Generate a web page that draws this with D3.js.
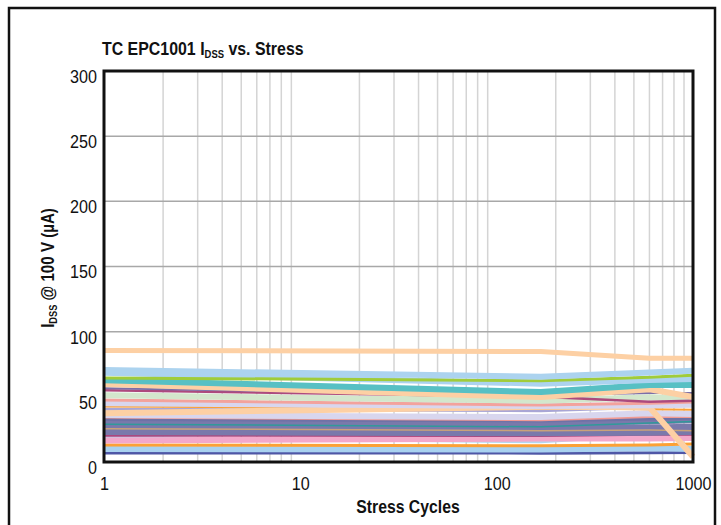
<!DOCTYPE html>
<html>
<head>
<meta charset="utf-8">
<script src="https://cdn.jsdelivr.net/npm/d3@7"></script>
<style>
  html, body { margin: 0; padding: 0; background: #fff; }
  svg { display: block; }
  text { font-family: "Liberation Sans", Arial, sans-serif; fill: #111; }
</style>
</head>
<body>
<svg id="chart" width="721" height="525"></svg>
<script>
// Stress-cycle sample points (log axis)
const cycles = [1, 168, 600, 1000];

// Leakage current per device, µA at each stress point
const idssDarkBlue    = [7, 6.8, 7.1, 7.2];
const idssBlueLow     = [10, 9.5, 10.5, 10];
const idssOrangeLow   = [13, 12.5, 13, 13.8];
const idssPink        = [16.5, 18, 18, 18.4];
const idssBlueThin    = [19, 15.5, 20.5, 21];
const idssMagentaLow  = [20.2, 20, 21, 21];
const idssSlateA      = [23, 22, 22.5, 23];
const idssTan         = [25.6, 24, 24.5, 24];
const idssSlateB      = [27.5, 26, 26.5, 27];
const idssTealThin    = [29, 27, 30, 31];
const idssSlateC      = [30.5, 30, 31, 32];
const idssPurpleDark  = [32.7, 31.5, 33, 33.5];
const idssSalmonLow   = [34.5, 32.5, 35, 35];
const idssLavenderA   = [36, 34.5, 37.4, 36.8];
const idssPeachDrop   = [37.4, 42.4, 42, 4];
const idssLavPurple   = [40.4, 39.4, 42, 43.7];
const idssOrangeThin  = [42.5, 41, 40.4, 40];
const idssLavenderB   = [45, 43, 43.5, 44];
const idssSalmonHigh  = [47.6, 43.7, 45, 46];
const idssLightGreen  = [51.2, 47, 49.6, 48.9];
const idssMagentaHigh = [55, 50, 46.3, 47];
const idssPurpleMid   = [56.5, 51, 53, 53];
const idssPeachMid    = [59.9, 49.8, 55.8, 50];
const idssTeal        = [62.7, 53.7, 59, 59];
const idssBlueMid     = [68.5, 60.1, 63, 63.7];
const idssGreen       = [64.5, 62.4, 65, 66.5];
const idssBlueHigh    = [70.5, 65.5, 68.6, 70];
const idssPeachTop    = [85.6, 84.7, 79.6, 79.6];

const yTicks = [0, 50, 100, 150, 200, 250, 300];
const xTicks = [1, 10, 100, 1000];

const series = [
  { v: idssDarkBlue,    c: "#4f57a6", w: 3 },
  { v: idssBlueLow,     c: "#a9d2f0", w: 6 },
  { v: idssOrangeLow,   c: "#fca136", w: 3 },
  { v: idssBlueThin,    c: "#b3d6f0", w: 3 },
  { v: idssPink,        c: "#f3a8cb", w: 6 },
  { v: idssMagentaLow,  c: "#b0447c", w: 2 },
  { v: idssSlateA,      c: "#7a79ab", w: 6 },
  { v: idssSlateB,      c: "#7a79ab", w: 6 },
  { v: idssTan,         c: "#c8a27a", w: 1.5 },
  { v: idssSlateC,      c: "#7a79ab", w: 6 },
  { v: idssTealThin,    c: "#2f9a9a", w: 1.5 },
  { v: idssPurpleDark,  c: "#6f72a6", w: 3 },
  { v: idssSalmonLow,   c: "#f19a93", w: 3 },
  { v: idssLavenderA,   c: "#d8d6ee", w: 6 },
  { v: idssLavPurple,   c: "#a9a6d5", w: 3 },
  { v: idssOrangeThin,  c: "#fca136", w: 2 },
  { v: idssPeachDrop,   c: "#fdd0a4", w: 6 },
  { v: idssLavenderB,   c: "#d8d6ee", w: 6 },
  { v: idssSalmonHigh,  c: "#f3a29c", w: 3 },
  { v: idssLightGreen,  c: "#d3e7cc", w: 6 },
  { v: idssMagentaHigh, c: "#ad4a7d", w: 2.5 },
  { v: idssPurpleMid,   c: "#7b6fa8", w: 2 },
  { v: idssPeachMid,    c: "#fdd0a4", w: 6 },
  { v: idssTeal,        c: "#57c0c4", w: 6 },
  { v: idssBlueMid,     c: "#acd3ef", w: 6 },
  { v: idssGreen,       c: "#a0cc3a", w: 3 },
  { v: idssBlueHigh,    c: "#acd3ef", w: 6 },
  { v: idssPeachTop,    c: "#fdd0a4", w: 5 }
];

const svg = d3.select("#chart");
const plot = { left: 104, right: 693, top: 71, bottom: 462 };

const x = d3.scaleLog().domain([1, 1000]).range([plot.left, plot.right]);
const y = d3.scaleLinear().domain([0, 300]).range([plot.bottom, plot.top]);

// outer frame
svg.append("rect")
  .attr("x", 9).attr("y", 8).attr("width", 706).attr("height", 540)
  .attr("fill", "none").attr("stroke", "#111").attr("stroke-width", 2.5);

// log grid: minor and decade verticals
const minor = [];
for (let d = 1; d < 1000; d *= 10) for (let k = 2; k <= 9; k++) minor.push(d * k);
svg.append("g").selectAll("line").data(minor).join("line")
  .attr("x1", d => x(d)).attr("x2", d => x(d))
  .attr("y1", plot.top).attr("y2", plot.bottom)
  .attr("stroke", d => (d === 10 || d === 100) ? "#a8a8a8" : "#d4d4d4")
  .attr("stroke-width", 1.5);

svg.append("g").selectAll("line").data(yTicks.filter(t => t > 0 && t < 300)).join("line")
  .attr("x1", plot.left).attr("x2", plot.right)
  .attr("y1", d => y(d)).attr("y2", d => y(d))
  .attr("stroke", "#a8a8a8").attr("stroke-width", 1.5);

// device traces
const line = d3.line().x((d, i) => x(cycles[i])).y(d => y(d));
svg.append("g").selectAll("path").data(series).join("path")
  .attr("d", s => line(s.v))
  .attr("fill", "none")
  .attr("stroke", s => s.c)
  .attr("stroke-width", s => s.w)
  .attr("stroke-linejoin", "round");

// plot frame
svg.append("rect")
  .attr("x", plot.left).attr("y", plot.top)
  .attr("width", plot.right - plot.left).attr("height", plot.bottom - plot.top)
  .attr("fill", "none").attr("stroke", "#111").attr("stroke-width", 3);

// tick labels via d3 axes (axis lines hidden)
const yAxis = svg.append("g").attr("transform", `translate(${plot.left - 7},0)`)
  .call(d3.axisLeft(y).tickValues(yTicks).tickSize(0).tickPadding(0));
yAxis.select(".domain").remove();
yAxis.selectAll("text").attr("font-size", 19).attr("dy", "0.6em");

const xAxis = svg.append("g").attr("transform", `translate(0,${plot.bottom + 14})`)
  .call(d3.axisBottom(x).tickValues(xTicks).tickFormat(d3.format("d")).tickSize(0).tickPadding(0));
xAxis.select(".domain").remove();
xAxis.selectAll("text").attr("font-size", 19).attr("dy", "0.72em");

svg.selectAll(".tick text")
  .attr("fill", "#111")
  .attr("font-family", null)
  .attr("transform", "scale(0.85,1)");

// helper: condensed bold text placed at (px, py)
function label(px, py, anchor, size, squeeze, rotate) {
  const g = svg.append("g")
    .attr("transform", `translate(${px},${py})${rotate ? " rotate(-90)" : ""} scale(${squeeze},1)`);
  return g.append("text").attr("text-anchor", anchor)
    .attr("font-size", size).attr("font-weight", "bold");
}

// title
const title = label(102, 55, "start", 18.5, 0.86, false);
title.append("tspan").text("TC EPC1001  I");
title.append("tspan").attr("font-size", 11).attr("dy", 3).text("DSS");
title.append("tspan").attr("dy", -3).text(" vs. Stress");

// x axis title
label(408, 513, "middle", 19, 0.83, false).text("Stress Cycles");

// y axis title
const yt = label(54, 268, "middle", 18, 0.84, true);
yt.append("tspan").text("I");
yt.append("tspan").attr("font-size", 11).attr("dy", 3).text("DSS");
yt.append("tspan").attr("dy", -3).text(" @ 100 V (µA)");
</script>
</body>
</html>
